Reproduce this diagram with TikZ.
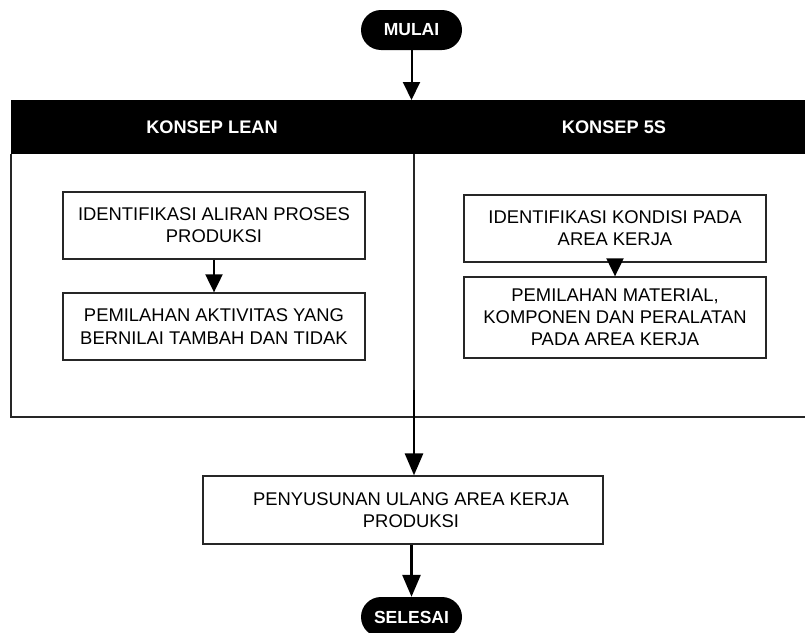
\documentclass[tikz,border=0pt]{standalone}
\usepackage{fontspec}
\setmainfont{Liberation Sans}
\usetikzlibrary{arrows.meta}
\begin{document}
\begin{tikzpicture}[x=1pt,y=-1pt,
  pill/.style={rectangle,rounded corners=20pt,fill=black,text=white,
    minimum width=101pt,minimum height=40pt,inner sep=0pt,
    font=\bfseries\fontsize{17.5}{20}\selectfont},
  hdrtext/.style={text=white,inner sep=0pt,font=\bfseries\fontsize{18.2}{20}\selectfont},
  procbox/.style={draw=black!85,line width=1.3pt,fill=white,align=center,
    minimum width=302pt,inner sep=0pt,
    font=\fontsize{18.4}{22.2}\selectfont},
  boxtext/.style={align=center,inner sep=0pt,font=\fontsize{18.4}{22.2}\selectfont},
  arr/.style={line width=2pt,-{Triangle[length=18pt,width=17pt]}},
  arrthick/.style={line width=2.8pt,-{Triangle[length=22pt,width=18pt]}}
]
\useasboundingbox (0,0) rectangle (805,632);

% start
\node[pill] (mulai) at (411.5,30) {MULAI};

% header bar
\node[fill=black,anchor=north west,minimum width=794pt,minimum height=54pt,inner sep=0pt] (header) at (11,100) {};
\node[hdrtext] (lean) at (212,127) {KONSEP LEAN};
\node[hdrtext] (fives) at (614,127) {KONSEP 5S};

% container lines
\coordinate (ctl) at (11,154);
\coordinate (cbl) at (11,417);
\coordinate (cbr) at (805,417);
\draw[line width=1.5pt,black!85] (ctl) -- (cbl) -- (cbr);
\coordinate (divtop) at (414,154);
\coordinate (divbot) at (414,417);
\draw[line width=1.5pt,black!85] (divtop) -- (divbot);

% left column
\node[procbox,minimum height=67pt] (l1) at (214,225.5) {IDENTIFIKASI ALIRAN PROSES\\PRODUKSI};
\node[procbox,minimum height=67pt] (l2) at (214,326.5) {PEMILAHAN AKTIVITAS YANG\\BERNILAI TAMBAH DAN TIDAK};

% right column
\node[procbox,minimum height=67pt] (r1) at (615,228.5) {IDENTIFIKASI KONDISI PADA\\AREA KERJA};
\node[procbox,minimum height=81pt] (r2) at (615,317.5) {PEMILAHAN MATERIAL,\\KOMPONEN DAN PERALATAN\\PADA AREA KERJA};

% bottom
\node[procbox,minimum width=400pt,minimum height=68pt] (b) at (403,510) {};
\node[boxtext] (btext) at (411,510) {PENYUSUNAN ULANG AREA KERJA\\PRODUKSI};
\node[pill] (selesai) at (411.5,617) {SELESAI};

% connectors
\draw[arr] (mulai.south) -- (mulai.south |- header.north);
\draw[arr] (l1.south) -- (l2.north);
\draw[arr] (r1.south) -- (r2.north);
\coordinate (c1) at (414,390);
\draw[arrthick] (c1) -- (c1 |- b.north);
\draw[arrthick] (b.south -| selesai.north) -- (selesai.north);
\end{tikzpicture}
\end{document}
